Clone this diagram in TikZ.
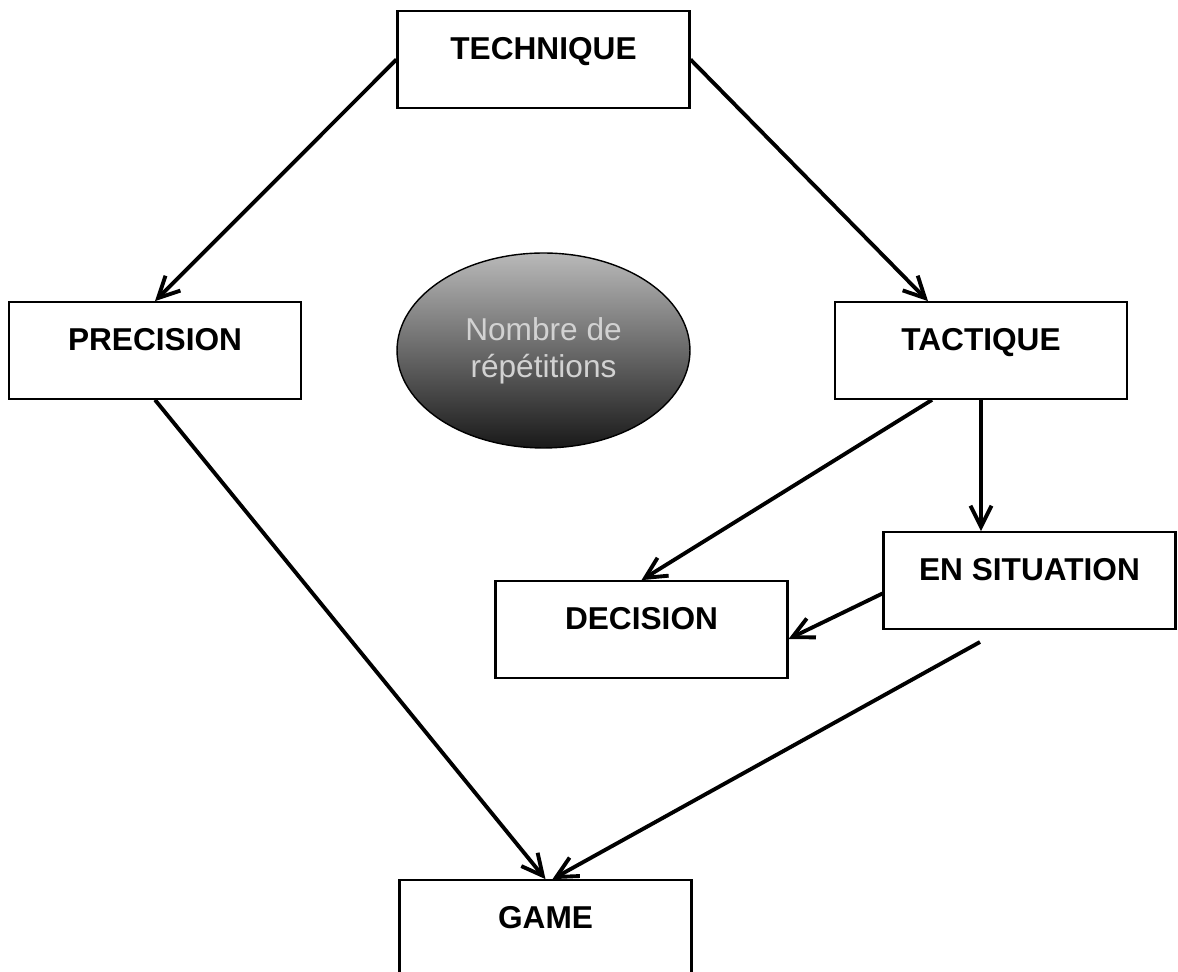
\documentclass[tikz,border=0pt]{standalone}
\usepackage{fontspec}
\setmainfont{Liberation Sans}
\usetikzlibrary{arrows.meta,shapes.geometric}
\begin{document}
\begin{tikzpicture}[x=0.02cm,y=-0.02cm]
      \useasboundingbox (0,0) rectangle (1178,972);
      \begin{scope}[every node/.style={rectangle,draw,line width=1.2pt,minimum width=5.84cm,inner sep=0pt,text height=27.5pt,text depth=27.5pt,font=\bfseries\fontsize{18}{20}\selectfont}]
        \node (technique) at (543.5,59.5) {TECHNIQUE};
        \node (precision) at (155,350.5) {PRECISION};
        \node (tactique) at (981,350.5) {TACTIQUE};
        \node (situation) at (1029.5,580.5) {EN SITUATION};
        \node (decision) at (641.5,629.5) {DECISION};
        \node (game) at (545.5,928.5) {GAME};
      \end{scope}
      \node[ellipse,draw,line width=0.8pt,top color=gray!55,bottom color=black!90,minimum width=5.86cm,minimum height=3.9cm,align=center,text=gray!35,font=\fontsize{18}{21}\selectfont] (repetitions) at (543.5,350.5) {Nombre de\\répétitions};
      \coordinate (situationfoot) at (980,642);
      \begin{scope}[every edge/.style={draw,line width=2.2pt,-{Straight Barb[length=12pt,width=12pt]}}]
        \path (technique.west) edge (precision.north);
        \path (technique.east) edge ([xshift=-1.06cm]tactique.north);
        \path (precision.south) edge (game.north);
        \path ([xshift=-0.98cm]tactique.south) edge (decision.north);
        \path (tactique.south) edge (tactique.south |- situation.north);
        \path ([yshift=-0.26cm]situation.west) edge ([yshift=-0.19cm]decision.east);
        \path (situationfoot) edge ([xshift=0.14cm]game.north);
      \end{scope}
    \end{tikzpicture}
\end{document}
